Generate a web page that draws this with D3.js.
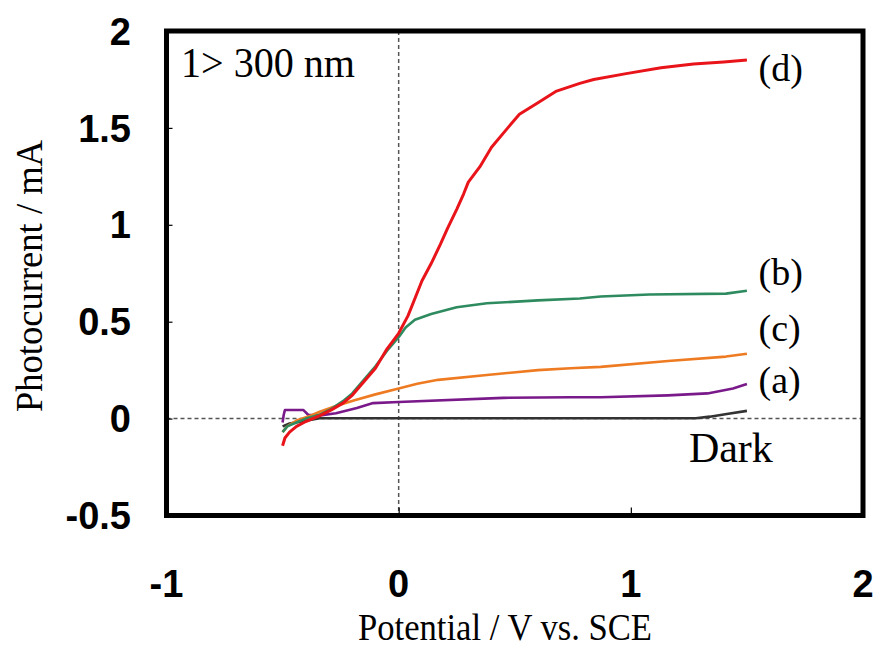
<!DOCTYPE html>
<html><head><meta charset="utf-8">
<script src="https://cdn.jsdelivr.net/npm/d3@7"></script>
<style>body{margin:0;background:#fff}svg{display:block}
.serif{font-family:"Liberation Serif","Times New Roman",Times,"DejaVu Serif",serif}
.sans{font-family:"Liberation Sans",Arial,Helvetica,sans-serif;font-weight:bold}</style>
</head><body>
<script>
// ---- data ----
const xTicks = [-1, 0, 1, 2];
const yTicks = [-0.5, 0, 0.5, 1, 1.5, 2];
const xTickLabels = ["-1", "0", "1", "2"];
const yTickLabels = ["-0.5", "0", "0.5", "1", "1.5", "2"];

const curveD = [[-0.5,-0.14],[-0.49,-0.10],[-0.47,-0.07],[-0.44,-0.04],[-0.40,-0.015],[-0.34,0.015],[-0.29,0.045],[-0.24,0.08],[-0.20,0.12],[-0.15,0.19],[-0.10,0.26],[-0.05,0.36],[0.0,0.44],[0.04,0.53],[0.07,0.62],[0.10,0.71],[0.14,0.80],[0.18,0.90],[0.21,0.98],[0.25,1.08],[0.28,1.16],[0.30,1.22],[0.35,1.30],[0.40,1.40],[0.47,1.50],[0.52,1.57],[0.60,1.63],[0.68,1.69],[0.78,1.73],[0.84,1.75],[0.98,1.78],[1.13,1.81],[1.27,1.83],[1.40,1.84],[1.50,1.85]];
const curveB = [[-0.5,-0.07],[-0.48,-0.04],[-0.44,-0.02],[-0.40,0.0],[-0.34,0.02],[-0.29,0.05],[-0.24,0.09],[-0.20,0.13],[-0.15,0.20],[-0.10,0.27],[-0.05,0.35],[0.0,0.42],[0.03,0.47],[0.07,0.51],[0.14,0.54],[0.25,0.575],[0.38,0.595],[0.60,0.61],[0.78,0.62],[0.87,0.63],[1.08,0.64],[1.41,0.645],[1.50,0.66]];
const curveC = [[-0.5,-0.07],[-0.48,-0.04],[-0.44,-0.01],[-0.38,0.015],[-0.34,0.035],[-0.27,0.065],[-0.19,0.095],[-0.10,0.125],[0.0,0.155],[0.08,0.18],[0.17,0.20],[0.38,0.225],[0.60,0.25],[0.74,0.26],[0.87,0.267],[1.16,0.297],[1.41,0.32],[1.50,0.335]];
const curveA = [[-0.50,-0.02],[-0.495,0.02],[-0.49,0.044],[-0.41,0.044],[-0.39,0.02],[-0.33,0.018],[-0.27,0.028],[-0.18,0.055],[-0.11,0.08],[0.0,0.086],[0.45,0.107],[0.74,0.11],[0.87,0.11],[1.16,0.12],[1.33,0.13],[1.44,0.155],[1.50,0.178]];
const curveDark = [[-0.5,-0.04],[-0.47,-0.025],[-0.42,-0.015],[-0.37,-0.005],[-0.34,0.002],[1.28,0.002],[1.34,0.01],[1.42,0.025],[1.50,0.04]];

const seriesNames = ["Dark","(a)","(c)","(b)","(d)"];
const seriesData = [curveDark, curveA, curveC, curveB, curveD];
const seriesColors = ["#333333","#7a1a8a","#ee7b22","#2e8b5f","#e8141a"];
const labelTexts = ["(d)","(b)","(c)","(a)","Dark"];
const labelY = [1.81, 0.76, 0.47, 0.20, -0.15];
const labelX = [1.55, 1.55, 1.55, 1.55, 1.25];
const labelSize = [38, 38, 38, 38, 42];
const annotation = "1> 300 nm";

// ---- layout ----
const W = 879, H = 648;
const svg = d3.select("body").append("svg").attr("width", W).attr("height", H);
const x = d3.scaleLinear().domain([-1, 2]).range([166.5, 863]);
const y = d3.scaleLinear().domain([-0.5, 2]).range([515.5, 31]);

// dashed zero lines
svg.append("line").attr("x1", x(-1)).attr("x2", x(2)).attr("y1", y(0)).attr("y2", y(0))
  .attr("stroke", "#555").attr("stroke-width", 1.5).attr("stroke-dasharray", "4,3");
svg.append("line").attr("x1", x(0)).attr("x2", x(0)).attr("y1", y(2)).attr("y2", y(-0.5))
  .attr("stroke", "#555").attr("stroke-width", 1.5).attr("stroke-dasharray", "4,3");

// curves
const line = d3.line().x(d => x(d[0])).y(d => y(d[1])).curve(d3.curveLinear);
seriesData.forEach((s, i) => {
  svg.append("path").datum(s).attr("d", line).attr("fill", "none")
    .attr("stroke", seriesColors[i]).attr("stroke-width", i === 4 ? 3 : 2.6)
    .attr("stroke-linejoin", "round");
});

// axes ticks (inside)
const yAxis = d3.axisRight(y).tickValues(yTicks).tickSize(6).tickFormat("");
svg.append("g").attr("transform", `translate(${x(-1)},0)`).call(yAxis)
  .call(g => g.select(".domain").remove())
  .selectAll("line").attr("stroke", "#000").attr("stroke-width", 1.2);
const xAxis = d3.axisTop(x).tickValues([0, 1]).tickSize(8).tickFormat("");
svg.append("g").attr("transform", `translate(0,${y(-0.5)})`).call(xAxis)
  .call(g => g.select(".domain").remove())
  .selectAll("line").attr("stroke", "#000").attr("stroke-width", 1.2);

// frame
svg.append("rect").attr("x", x(-1)).attr("y", y(2))
  .attr("width", x(2) - x(-1)).attr("height", y(-0.5) - y(2))
  .attr("fill", "none").attr("stroke", "#000").attr("stroke-width", 5);

// tick labels
svg.append("g").selectAll("text").data(yTicks).join("text").attr("class", "sans")
  .attr("x", 131).attr("y", d => y(d)).attr("dy", "0.36em")
  .attr("text-anchor", "end").attr("font-size", 38).text((d, i) => yTickLabels[i]);
svg.append("g").selectAll("text").data(xTicks).join("text").attr("class", "sans")
  .attr("x", d => x(d)).attr("y", 583).attr("dy", "0.36em")
  .attr("text-anchor", "middle").attr("font-size", 38).text((d, i) => xTickLabels[i]);

// axis titles
svg.append("text").attr("class", "serif").attr("x", 505).attr("y", 640).attr("text-anchor", "middle")
  .attr("font-size", 38).attr("textLength", 294).attr("lengthAdjust", "spacingAndGlyphs")
  .text("Potential / V vs. SCE");
svg.append("text").attr("class", "serif").attr("transform", "translate(42,276) rotate(-90)")
  .attr("text-anchor", "middle").attr("font-size", 38)
  .attr("textLength", 272).attr("lengthAdjust", "spacingAndGlyphs")
  .text("Photocurrent / mA");

// annotation
svg.append("text").attr("class", "serif").attr("x", 181).attr("y", 77).attr("font-size", 42)
  .attr("textLength", 174).attr("lengthAdjust", "spacingAndGlyphs").text(annotation);

// series labels
svg.append("g").selectAll("text").data(labelTexts).join("text").attr("class", "serif")
  .attr("x", (d, i) => x(labelX[i])).attr("y", (d, i) => y(labelY[i]))
  .attr("dy", "0.35em").attr("font-size", (d, i) => labelSize[i]).text(d => d);
</script>
</body></html>
